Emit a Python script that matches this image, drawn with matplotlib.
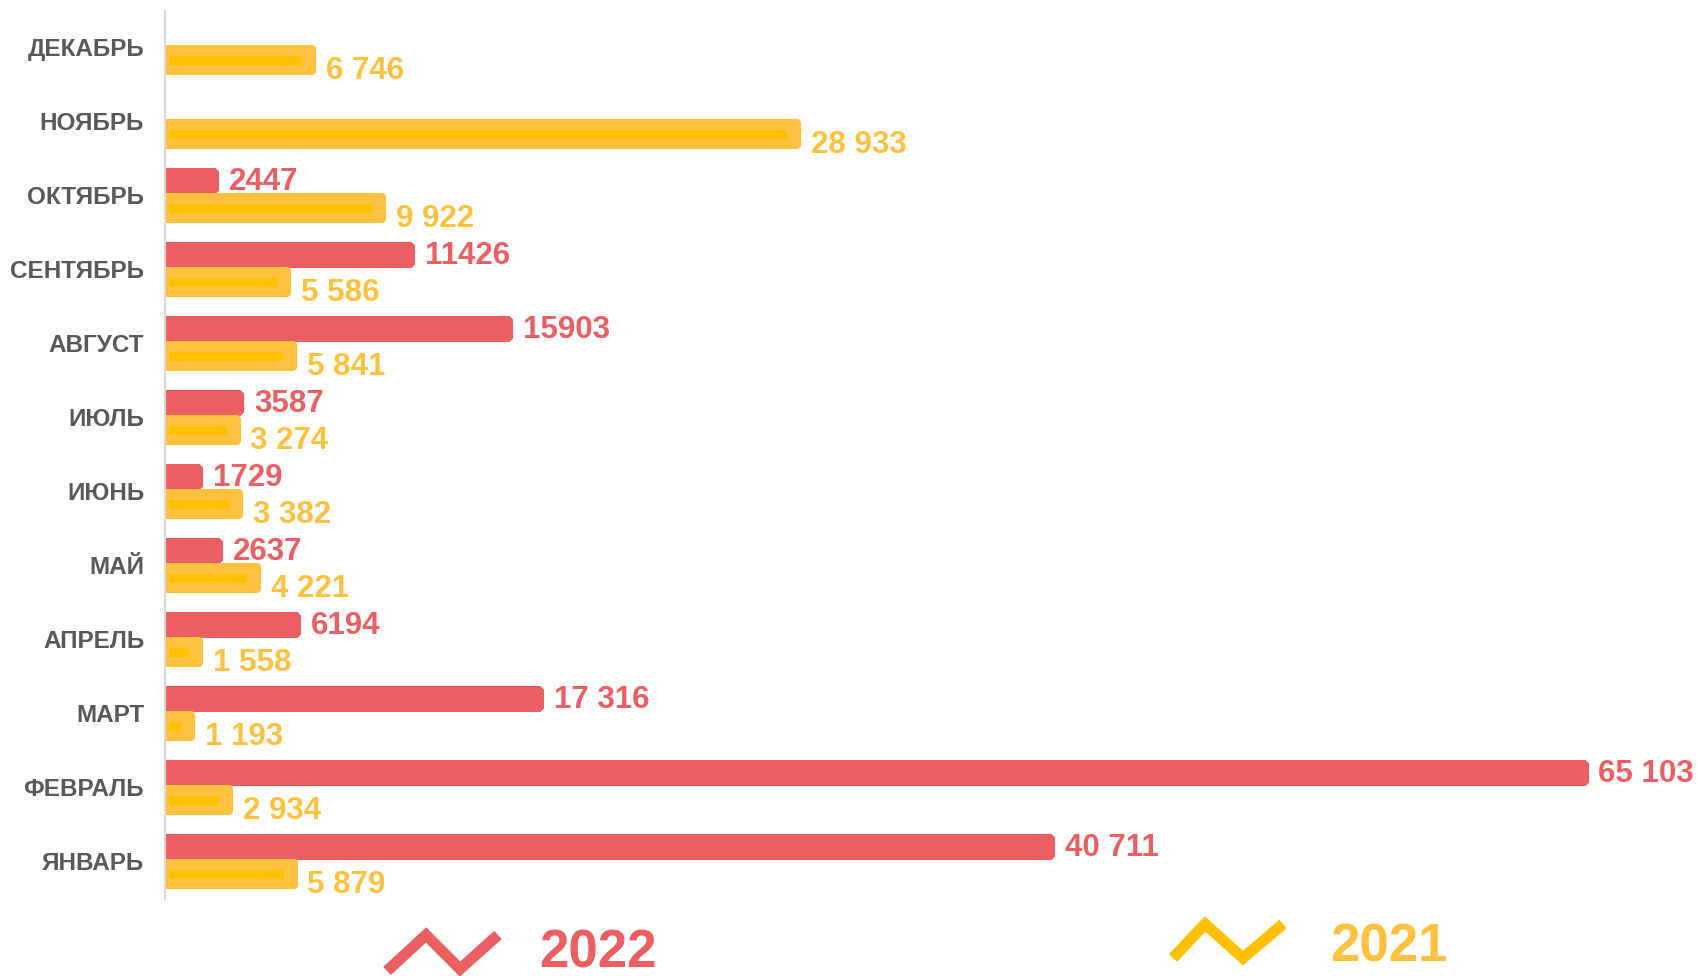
import matplotlib
matplotlib.use("Agg")
import matplotlib.pyplot as plt
from matplotlib.lines import Line2D
import numpy as np

plt.rcParams['font.family'] = ['Liberation Sans', 'DejaVu Sans']
plt.rcParams['font.weight'] = 'bold'

months = ["ЯНВАРЬ", "ФЕВРАЛЬ", "МАРТ", "АПРЕЛЬ", "МАЙ", "ИЮНЬ", "ИЮЛЬ",
          "АВГУСТ", "СЕНТЯБРЬ", "ОКТЯБРЬ", "НОЯБРЬ", "ДЕКАБРЬ"]
v2022 = [40711, 65103, 17316, 6194, 2637, 1729, 3587, 15903, 11426, 2447, np.nan, np.nan]
v2021 = [5879, 2934, 1193, 1558, 4221, 3382, 3274, 5841, 5586, 9922, 28933, 6746]
lab2022 = ["40 711", "65 103", "17 316", "6194", "2637", "1729", "3587",
           "15903", "11426", "2447", "", ""]
lab2021 = ["5 879", "2 934", "1 193", "1 558", "4 221", "3 382", "3 274",
           "5 841", "5 586", "9 922", "28 933", "6 746"]
series_names = ["2022", "2021"]

RED = "#EB5F62"
ORANGE = "#FFC13F"
YELLOW = "#FFC000"
GRAY = "#595959"

W, H = 1698, 976
fig = plt.figure(figsize=(W / 100, H / 100), dpi=100)
ax_left, ax_top, ax_bot = 165, 11, 899
ax = fig.add_axes([ax_left / W, 1 - ax_bot / H, (W - ax_left) / W, (ax_bot - ax_top) / H])

units_per_px = 45.75
xmax = (W - ax_left) * units_per_px
ax.set_xlim(0, xmax)
ax.set_ylim(-0.51, 11.49)
ypx = (ax_bot - ax_top) / 12.0  # px per category

y = np.arange(len(months))
v22 = np.array(v2022, dtype=float)
v21 = np.array(v2021, dtype=float)
ok = ~np.isnan(v22)

px2pt = 72 / 100

# red bars (2022): bevel corners
lw_r = 7  # px
hx_r = lw_r / 2 * units_per_px
hy_r = lw_r / 2 / ypx
r_bottom = y + 0.027 + hy_r
r_h = 0.351 - 2 * hy_r
ax.barh(r_bottom[ok], v22[ok] - hx_r, height=r_h, align='edge',
        color=RED, edgecolor=RED, linewidth=lw_r * px2pt, joinstyle='bevel', zorder=2)

# orange bars (2021): rounded corners (outline extends beyond value like Excel)
lw_o = 8
hy_o = lw_o / 2 / ypx
o_bottom = y - 0.378 + hy_o
o_h = 0.405 - 2 * hy_o
ax.barh(o_bottom, v21, height=o_h, align='edge',
        color=ORANGE, edgecolor=ORANGE, linewidth=lw_o * px2pt, joinstyle='round', zorder=3)

# inner stripe
st_h = 9 / ypx
st_c = y - 0.1755
st_left = 4 * units_per_px
st_w = np.maximum(v21 - 10 * units_per_px - st_left, 0)
ax.barh(st_c, st_w, left=st_left, height=st_h, color=YELLOW, linewidth=0, zorder=4)

# labels
for i in range(len(months)):
    if ok[i] and lab2022[i]:
        ax.annotate(lab2022[i], xy=(v22[i], y[i] + 0.2025), xytext=(7.5, -1),
                    textcoords='offset points', ha='left', va='center',
                    fontsize=22.5, fontweight='bold', color=RED, zorder=5)
    ax.annotate(lab2021[i], xy=(v21[i], y[i] - 0.1755), xytext=(10, -8),
                textcoords='offset points', ha='left', va='center',
                fontsize=22.5, fontweight='bold', color=ORANGE, zorder=5)

ax.set_yticks(y)
ax.set_yticklabels(months, fontsize=17.5, fontweight='bold', color=GRAY)
ax.tick_params(axis='y', length=0, pad=15)
ax.set_xticks([])
for s in ['top', 'right', 'bottom']:
    ax.spines[s].set_visible(False)
ax.spines['left'].set_color('#D9D9D9')
ax.spines['left'].set_linewidth(1.5)
ax.spines['left'].set_zorder(6)

# legend (custom)
def fy(p):
    return 1 - p / H

red_zig = [(387, 971), (426, 935), (460, 969), (498, 935)]
yel_zig = [(1173, 958), (1205, 924), (1243, 958), (1283, 924)]
fig.add_artist(Line2D([p[0] / W for p in red_zig], [fy(p[1]) for p in red_zig],
                      transform=fig.transFigure, color=RED, linewidth=8, solid_joinstyle='miter',
                      solid_capstyle='butt'))
fig.add_artist(Line2D([p[0] / W for p in yel_zig], [fy(p[1]) for p in yel_zig],
                      transform=fig.transFigure, color=YELLOW, linewidth=8, solid_joinstyle='miter',
                      solid_capstyle='butt'))
fig.text(539 / W, fy(953), series_names[0], fontsize=38, fontweight='bold', color=RED,
         ha='left', va='center')
fig.text(1330 / W, fy(948), series_names[1], fontsize=38, fontweight='bold', color=ORANGE,
         ha='left', va='center')

fig.savefig("out.png", dpi=100, facecolor='white')
